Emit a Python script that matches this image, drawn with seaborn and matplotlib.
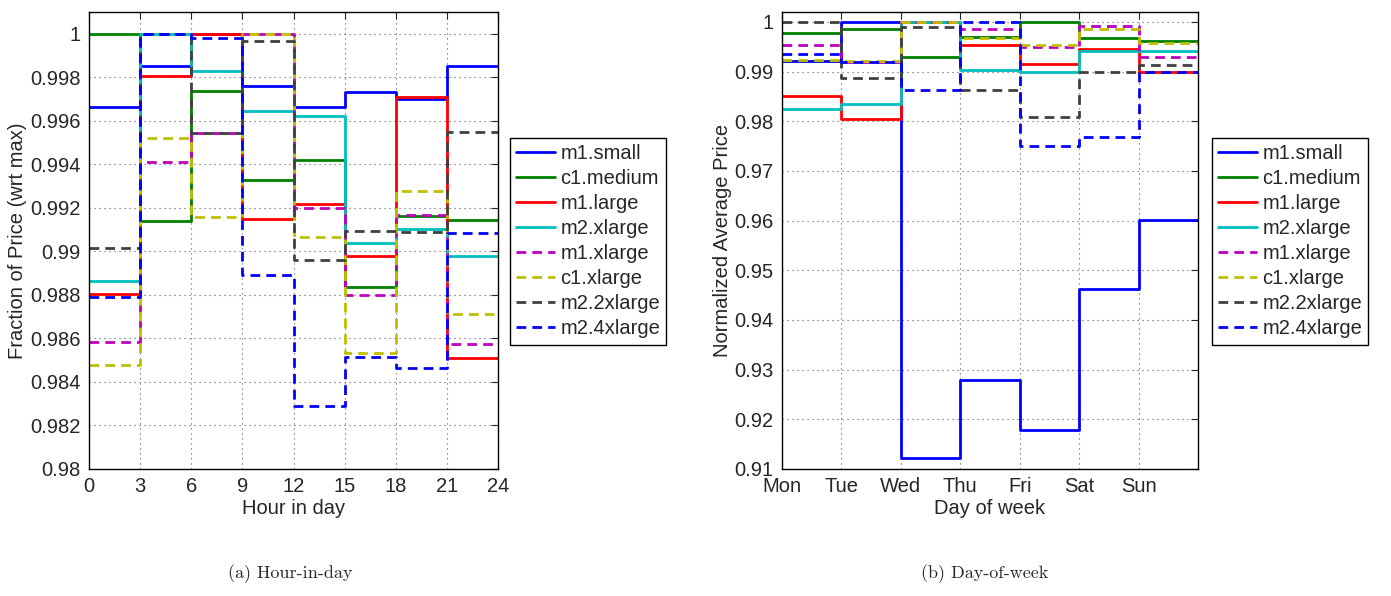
import numpy as np
import pandas as pd
import matplotlib
matplotlib.use("Agg")
import matplotlib.pyplot as plt
import seaborn as sns


# DATA

types = [
    "m1.small", "c1.medium", "m1.large", "m2.xlarge",
    "m1.xlarge", "c1.xlarge", "m2.2xlarge", "m2.4xlarge"
]

hours = [0, 3, 6, 9, 12, 15, 18, 21]
hour_ticks = [0, 3, 6, 9, 12, 15, 18, 21, 24]

m1_small_h = [0.99662, 0.99854, 1.0, 0.99762, 0.99662, 0.99734, 0.99700, 0.99851]
c1_medium_h = [1.0, 0.99140, 0.99736, 0.99327, 0.99421, 0.98836, 0.99163, 0.99143]
m1_large_h = [0.98802, 0.99805, 1.0, 0.99150, 0.99217, 0.98978, 0.99711, 0.98510]
m2_xlarge_h = [0.98866, 1.0, 0.99831, 0.99647, 0.99624, 0.99040, 0.99103, 0.98980]
m1_xlarge_h = [0.98584, 0.99413, 0.99542, 1.0, 0.99198, 0.98799, 0.99167, 0.98576]
c1_xlarge_h = [0.98479, 0.99521, 0.99158, 1.0, 0.99068, 0.98533, 0.99276, 0.98710]
m2_2xlarge_h = [0.99017, 1.0, 0.99545, 0.99965, 0.98959, 0.99094, 0.99089, 0.99548]
m2_4xlarge_h = [0.98791, 1.0, 0.99982, 0.98891, 0.98290, 0.98515, 0.98465, 0.99086]

days = [1, 2, 3, 4, 5, 6, 7]
day_labels = ["Mon", "Tue", "Wed", "Thu", "Fri", "Sat", "Sun"]

m1_small_d = [0.99207, 1.0, 0.9123, 0.9279, 0.9178, 0.9463, 0.9601]
c1_medium_d = [0.99779, 0.99865, 0.99296, 0.99700, 1.0, 0.99678, 0.99610]
m1_large_d = [0.98517, 0.98048, 1.0, 0.99537, 0.99161, 0.99457, 0.98994]
m2_xlarge_d = [0.98255, 0.98350, 1.0, 0.99040, 0.98994, 0.99409, 0.99410]
m1_xlarge_d = [0.99543, 0.99187, 1.0, 0.99865, 0.99490, 0.99912, 0.99296]
c1_xlarge_d = [0.99241, 0.99207, 1.0, 0.99678, 0.99543, 0.99865, 0.99577]
m2_2xlarge_d = [1.0, 0.98873, 0.99891, 0.98638, 0.98094, 0.98994, 0.99127]
m2_4xlarge_d = [0.99362, 0.99187, 0.98638, 1.0, 0.97511, 0.97692, 0.98994]

series_h = [m1_small_h, c1_medium_h, m1_large_h, m2_xlarge_h,
            m1_xlarge_h, c1_xlarge_h, m2_2xlarge_h, m2_4xlarge_h]
series_d = [m1_small_d, c1_medium_d, m1_large_d, m2_xlarge_d,
            m1_xlarge_d, c1_xlarge_d, m2_2xlarge_d, m2_4xlarge_d]


# ESTILO

colors = {
    "m1.small": (0, 0, 1),
    "c1.medium": (0, 0.5, 0),
    "m1.large": (1, 0, 0),
    "m2.xlarge": (0, 0.75, 0.75),
    "m1.xlarge": (0.75, 0, 0.75),
    "c1.xlarge": (0.75, 0.75, 0),
    "m2.2xlarge": (0.25, 0.25, 0.25),
    "m2.4xlarge": (0, 0, 1),
}

dash = (3.5, 2.2)
dashes = {
    "m1.small": "",
    "c1.medium": "",
    "m1.large": "",
    "m2.xlarge": "",
    "m1.xlarge": dash,
    "c1.xlarge": dash,
    "m2.2xlarge": dash,
    "m2.4xlarge": dash,
}

FS = 14.5

sns.set_style("white")
plt.rcParams["font.family"] = ["Liberation Sans", "DejaVu Sans"]
plt.rcParams["font.size"] = FS


def make_df(xs, end, series):
    rows = []
    for name, vals in zip(types, series):
        # repete o último valor para fechar o degrau
        for x, v in zip(list(xs) + [end], list(vals) + [vals[-1]]):
            rows.append({"x": x, "price": v, "type": name})
    return pd.DataFrame(rows)


df_h = make_df(hours, 24, series_h)
df_d = make_df(days, 8, series_d)

fig = plt.figure(figsize=(13.91, 5.96), dpi=100)

ax1 = fig.add_axes([89 / 1391, 127 / 596, 409 / 1391, 457 / 596])
ax2 = fig.add_axes([782 / 1391, 127 / 596, 416 / 1391, 457 / 596])


def draw(ax, df):
    sns.lineplot(
        data=df,
        x="x",
        y="price",
        hue="type",
        style="type",
        hue_order=types,
        style_order=types,
        palette=colors,
        dashes=dashes,
        drawstyle="steps-post",
        linewidth=2.0,
        estimator=None,
        ax=ax
    )
    ax.set_axisbelow(True)
    ax.grid(True, linestyle=(0, (1, 3.5)), color="0.35", linewidth=0.8)
    ax.tick_params(direction="in", top=True, right=True,
                   length=5, width=0.8, pad=6, labelsize=FS)
    for sp in ax.spines.values():
        sp.set_linewidth(1.0)
        sp.set_color("black")


draw(ax1, df_h)
ax1.set_xlim(0, 24)
ax1.set_ylim(0.98, 1.001)
ax1.set_xticks(hour_ticks)
ax1.set_yticks(np.arange(0.98, 1.0001, 0.002))
ax1.yaxis.set_major_formatter(matplotlib.ticker.FormatStrFormatter("%g"))
ax1.set_xlabel("Hour in day", fontsize=FS, labelpad=2)
ax1.set_ylabel("Fraction of Price (wrt max)", fontsize=FS, labelpad=2)

draw(ax2, df_d)
ax2.set_xlim(1, 8)
ax2.set_ylim(0.91, 1.002)
ax2.set_xticks(days)
ax2.set_xticklabels(day_labels)
ax2.set_yticks(np.arange(0.91, 1.0001, 0.01))
ax2.yaxis.set_major_formatter(matplotlib.ticker.FormatStrFormatter("%g"))
ax2.set_xlabel("Day of week", fontsize=FS, labelpad=2)
ax2.set_ylabel("Normalized Average Price", fontsize=FS, labelpad=2)

for ax, x0 in [(ax1, 1.029), (ax2, 1.034)]:
    sns.move_legend(
        ax,
        "upper left",
        bbox_to_anchor=(x0, 0.724),
        title=None,
        frameon=True,
        fancybox=False,
        fontsize=FS,
        handlelength=1.95,
        handletextpad=0.25,
        labelspacing=0.3,
        borderpad=0.3,
        borderaxespad=0,
        framealpha=1,
        edgecolor="black"
    )
    ax.get_legend().get_frame().set_linewidth(1.0)

fig.text(0.2085, 0.038, "(a) Hour-in-day", family="cmr10",
         fontsize=13, ha="center", va="center")
fig.text(0.708, 0.038, "(b) Day-of-week", family="cmr10",
         fontsize=13, ha="center", va="center")

fig.savefig("out.png", dpi=100)
